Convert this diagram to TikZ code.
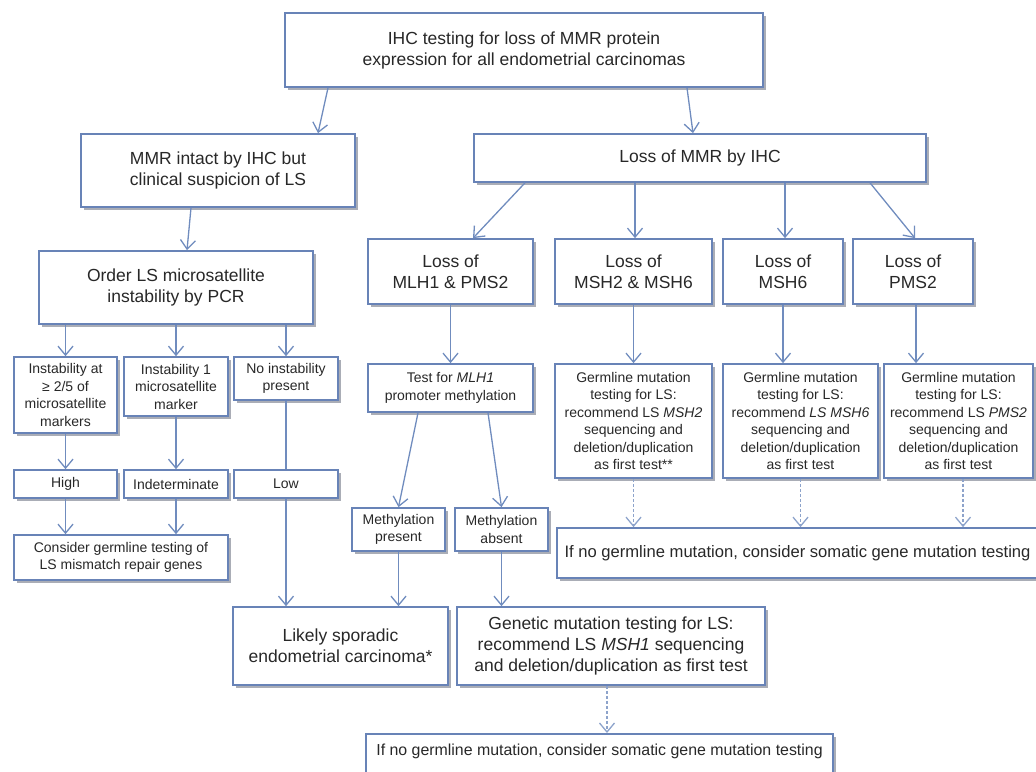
\documentclass[tikz,border=0pt]{standalone}
\usepackage{fontspec}
\setmainfont{Liberation Sans}
\usetikzlibrary{arrows.meta,shadows}
\definecolor{bcol}{RGB}{104,131,183}
\definecolor{acol}{RGB}{112,140,190}
\definecolor{shcol}{RGB}{170,173,182}
\definecolor{tcol}{RGB}{40,40,40}
\tikzset{
  box/.style={draw=bcol, line width=1.7pt, fill=white, inner sep=0pt, align=center, text=tcol,
    drop shadow={shadow xshift=3pt, shadow yshift=-3pt, fill=shcol, opacity=1}},
  big/.style={font=\fontsize{17.5}{21}\selectfont},
  small/.style={font=\fontsize{14}{17.5}\selectfont},
  sz/.style 2 args={minimum width=#1pt, minimum height=#2pt},
  arr/.style={draw=acol, line width=1.3pt, -{Straight Barb[length=9pt,width=15pt,line width=1.3pt]}},
  plain/.style={draw=acol, line width=1.3pt},
  darr/.style={draw=acol!80, line width=1.3pt, dash pattern=on 3pt off 2pt, -{Straight Barb[length=9pt,width=15pt,line width=1.3pt]}}
}
\begin{document}
\begin{tikzpicture}[x=1pt,y=-1pt]
\useasboundingbox (0,0) rectangle (1036,771);
% nodes
\node[box,big,sz={478}{74}] (top) at (524,50) {IHC testing for loss of MMR protein\\expression for all endometrial carcinomas};
\node[box,big,sz={274}{73}] (intact) at (218,170.5) {MMR intact by IHC but\\clinical suspicion of LS};
\node[box,big,sz={452}{48}] (lossmmr) at (700,158) {Loss of MMR by IHC};
\node[box,big,sz={274}{73}] (order) at (176,287.5) {Order LS microsatellite\\instability by PCR};
\node[box,big,sz={165}{65}] (mlh) at (450.5,271.5) {Loss of\\MLH1 \& PMS2};
\node[box,big,sz={157}{65}] (msh2) at (633.5,271.5) {Loss of\\MSH2 \& MSH6};
\node[box,big,sz={120}{65}] (msh6) at (783,271.5) {Loss of\\MSH6};
\node[box,big,sz={120}{65}] (pms2) at (913,271.5) {Loss of\\PMS2};
\node[box,small,sz={103}{76}] (inst1) at (65.5,395) {Instability at\\≥ 2/5 of\\microsatellite\\markers};
\node[box,small,sz={104}{59}] (inst2) at (176,386.5) {Instability 1\\microsatellite\\marker};
\node[box,small,sz={104}{43}] (inst3) at (286,378.5) {No instability\\present};
\node[box,small,sz={103}{28}] (high) at (65.5,484) {High};
\node[box,small,sz={104}{28}] (indet) at (176,484) {Indeterminate};
\node[box,small,sz={104}{28}] (low) at (286,484) {Low};
\node[box,small,sz={214}{45}] (consider) at (121,557.5) {Consider germline testing of\\LS mismatch repair genes};
\node[box,small,sz={165}{48}] (testmlh) at (450.5,388) {Test for \textit{MLH1}\\promoter methylation};
\node[box,small,sz={93}{43}] (mpres) at (398.5,529.5) {Methylation\\present};
\node[box,small,sz={93}{43}] (mabs) at (501.5,529.5) {Methylation\\absent};
\node[box,small,sz={157}{114}] (g2) at (633.5,421) {Germline mutation\\testing for LS:\\recommend LS \textit{MSH2}\\sequencing and\\deletion/duplication\\as first test**};
\node[box,small,sz={155}{114}] (g6) at (800.5,421) {Germline mutation\\testing for LS:\\recommend \textit{LS MSH6}\\sequencing and\\deletion/duplication\\as first test};
\node[box,small,sz={149}{114}] (gp) at (958.5,421) {Germline mutation\\testing for LS:\\recommend LS \textit{PMS2}\\sequencing and\\deletion/duplication\\as first test};
\node[box,font=\fontsize{16.6}{20}\selectfont,sz={481}{50}] (ifno1) at (797.5,553) {If no germline mutation, consider somatic gene mutation testing};
\node[box,big,sz={215}{78}] (likely) at (340.5,646) {Likely sporadic\\endometrial carcinoma*};
\node[box,big,sz={308}{78}] (genetic) at (611,646) {Genetic mutation testing for LS:\\recommend LS \textit{MSH1} sequencing\\and deletion/duplication as first test};
\node[box,font=\fontsize{15.9}{19}\selectfont,minimum width=467pt,anchor=north,inner ysep=4pt,text height=18pt,text depth=30pt] (ifno2) at (599.5,733) {If no germline mutation, consider somatic gene mutation testing};
% connectors
\draw[arr] ([xshift=-196pt]top.south) -- ([xshift=100pt]intact.north);
\draw[arr] ([xshift=163pt]top.south) -- ([xshift=-7pt]lossmmr.north);
\draw[arr] ([xshift=-27pt]intact.south) -- ([xshift=11pt]order.north);
\draw[arr] ([xshift=-175pt]lossmmr.south) -- ([xshift=22.5pt]mlh.north);
\draw[arr] ([xshift=-65pt]lossmmr.south) -- ([xshift=1.5pt]msh2.north);
\draw[arr] ([xshift=85pt]lossmmr.south) -- ([xshift=2pt]msh6.north);
\draw[arr] ([xshift=170pt]lossmmr.south) -- ([xshift=2pt]pms2.north);
\draw[arr] ([xshift=-110.5pt]order.south) -- (inst1.north);
\draw[arr] (order.south) -- (inst2.north);
\draw[arr] ([xshift=110pt]order.south) -- (inst3.north);
\draw[arr] (inst1.south) -- (high.north);
\draw[arr] (inst2.south) -- (indet.north);
\draw[plain] (inst3.south) -- (low.north);
\draw[arr] (high.south) -- ([xshift=-55.5pt]consider.north);
\draw[arr] (indet.south) -- ([xshift=55pt]consider.north);
\draw[arr] (low.south) -- ([xshift=-54.5pt]likely.north);
\draw[arr] (mlh.south) -- (testmlh.north);
\draw[arr] (msh2.south) -- (g2.north);
\draw[arr] (msh6.south) -- ([xshift=-17.5pt]g6.north);
\draw[arr] ([xshift=3pt]pms2.south) -- ([xshift=-42.5pt]gp.north);
\draw[arr] ([xshift=-32.5pt]testmlh.south) -- (mpres.north);
\draw[arr] ([xshift=37.5pt]testmlh.south) -- (mabs.north);
\draw[arr] (mpres.south) -- ([xshift=58pt]likely.north);
\draw[arr] (mabs.south) -- ([xshift=-109.5pt]genetic.north);
\draw[darr] (g2.south) -- ([xshift=-164pt]ifno1.north);
\draw[darr] (g6.south) -- ([xshift=3pt]ifno1.north);
\draw[darr] ([xshift=4.5pt]gp.south) -- ([xshift=165.5pt]ifno1.north);
\draw[darr] ([xshift=-4pt]genetic.south) -- ([xshift=7.5pt]ifno2.north);
\end{tikzpicture}
\end{document}
